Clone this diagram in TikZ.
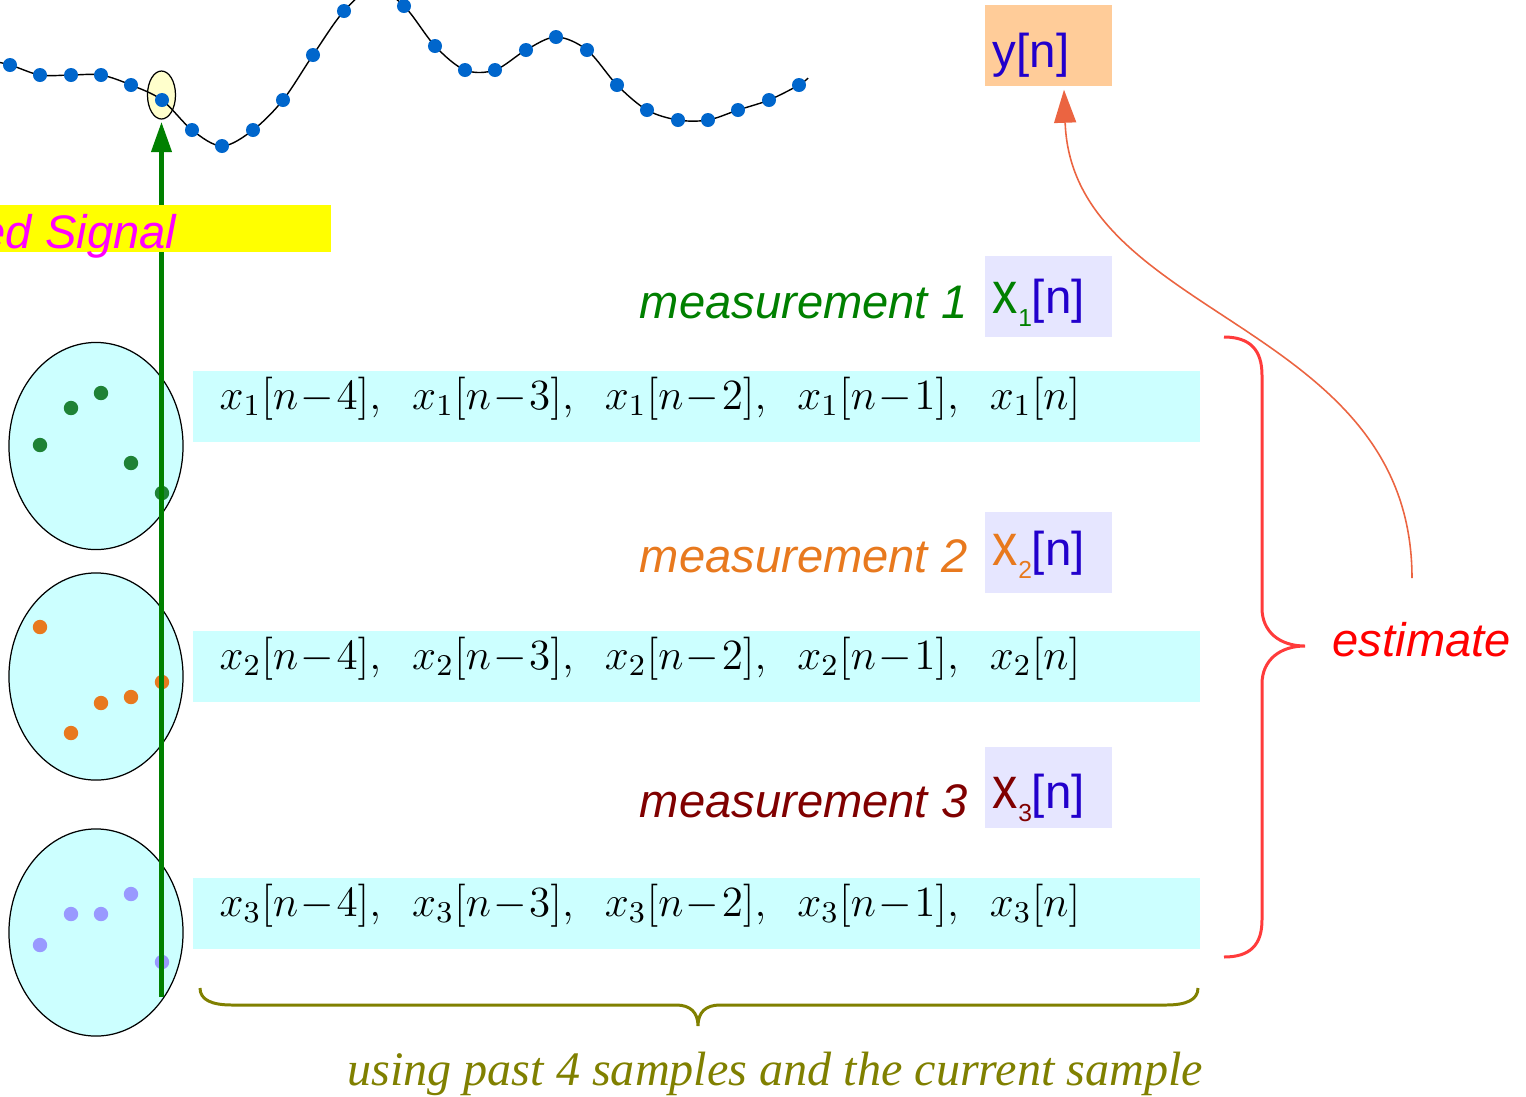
\documentclass[tikz,border=0pt]{standalone}
\usepackage{fix-cm}
\usepackage{fontspec}
\setmainfont{Liberation Serif}
\setsansfont{Liberation Sans}
\usepackage{graphicx}
\usetikzlibrary{arrows.meta, shapes.geometric, calc}
\definecolor{sigblue}{HTML}{0066CC}
\definecolor{rowcyan}{HTML}{CCFFFF}
\definecolor{boxlav}{HTML}{E6E6FF}
\definecolor{boxpeach}{HTML}{FFCC99}
\definecolor{curyellow}{HTML}{FFFFCC}
\definecolor{sigyellow}{HTML}{FFFF00}
\definecolor{sigmagenta}{HTML}{FF00FF}
\definecolor{labgreen}{HTML}{008000}
\definecolor{dotgreen}{HTML}{1E8236}
\definecolor{laborange}{HTML}{E8791E}
\definecolor{labred}{HTML}{800000}
\definecolor{dotlav}{HTML}{9999FF}
\definecolor{nblue}{HTML}{2200CC}
\definecolor{estred}{HTML}{FF0000}
\definecolor{bracered}{HTML}{FF3B3B}
\definecolor{arrowred}{HTML}{EB6441}
\definecolor{braceolive}{HTML}{808000}
\newcommand{\labfont}{\fontsize{13.4}{16}\selectfont\sffamily\itshape}
\newcommand{\boxfont}{\fontsize{13.5}{16}\selectfont\sffamily}
\newcommand{\rowfont}{\fontsize{12.25}{15}\selectfont}
\newcommand{\subfont}{\fontsize{7}{8}\selectfont}
\newcommand{\bigx}{\scalebox{0.9}[1.05]{\fontsize{16}{16}\selectfont x}}
\tikzset{
  meascloud/.style={ellipse, draw=black, line width=0.35pt, fill=rowcyan,
    minimum width=1.74cm, minimum height=2.07cm, inner sep=0pt},
  curmark/.style={ellipse, draw=black, line width=0.35pt, fill=curyellow,
    minimum width=0.28cm, minimum height=0.48cm, inner sep=0pt, outer sep=0.03cm},
  rowbox/.style={fill=rowcyan, minimum width=10.07cm, minimum height=0.71cm,
    inner xsep=0.27cm, inner ysep=0pt, text width=9.53cm, align=left,
    text height=0.35cm, text depth=0.3cm, font=\rowfont},
  xbox/.style={fill=boxlav, minimum width=1.27cm, minimum height=0.81cm,
    inner xsep=0.08cm, inner ysep=0pt, text width=1.11cm, align=left,
    text depth=0.15cm, font=\boxfont},
  measlabel/.style={anchor=base east, inner sep=0pt, font=\labfont},
  sigarrow/.style={draw=labgreen, line width=0.04cm, -{Triangle[length=0.3cm, width=0.2cm]}},
  estarrow/.style={draw=arrowred, line width=0.45pt, -{Triangle[length=0.33cm, width=0.22cm]}}
}

\begin{document}
\begin{tikzpicture}[x=0.01cm, y=-0.01cm]
\useasboundingbox (0,0) rectangle (1526,1096);
\clip (0,0) rectangle (1526,1096);

% sampled signal
\node[curmark] (cur) at (161.5,95) {};
\draw[black, line width=0.4pt] plot[smooth, tension=0.55] coordinates {
  (-20,58) (10,65) (40,75) (71,75) (101,75) (131,85) (162,100) (192,130)
  (222,146) (253,130) (283,100) (313,55) (344,11) (374,-12) (404,6)
  (435,46) (465,70) (495,70) (526,50) (556,37) (587,50) (617,85)
  (647,110) (678,120) (708,120) (738,110) (769,100) (799,85) (808,78)};
\foreach \x/\y in {10/65, 40/75, 71/75, 101/75, 131/85, 162/100, 192/130,
  222/146, 253/130, 283/100, 313/55, 344/11, 404/6, 435/46, 465/70,
  495/70, 526/50, 556/37, 587/50, 617/85, 647/110, 678/120, 708/120,
  738/110, 769/100, 799/85}{
  \fill[sigblue] (\x,\y) circle[radius=0.07cm];
}

% measurement clouds
\node[meascloud] (cloud1) at (96,446) {};
\node[meascloud] (cloud2) at (96,676.5) {};
\node[meascloud] (cloud3) at (96,932.5) {};
\foreach \x/\y in {101/393, 71/408, 40/445, 131/463, 162/493}{
  \fill[dotgreen] (\x,\y) circle[radius=0.072cm];
}
\foreach \x/\y in {40/627, 71/733, 101/703, 131/697, 162/682}{
  \fill[laborange] (\x,\y) circle[radius=0.072cm];
}
\foreach \x/\y in {40/945, 71/914, 101/914, 131/894, 162/962}{
  \fill[dotlav] (\x,\y) circle[radius=0.072cm];
}

% current sample
\coordinate (gbase) at (161.5,997);
\draw[sigarrow] (gbase) -- (cur);

\fill[sigyellow] (0,205) rectangle (331,252);
\node[anchor=base east, inner sep=0pt, font=\labfont, text=sigmagenta] (sig) at (177,248) {ed Signal};

% sample windows
\foreach \i/\yr in {1/406.5, 2/666.5, 3/913.5}{
  \node[rowbox] (row\i) at (696.5,\yr)
    {$x_\i[n\!-\!4],\;\; x_\i[n\!-\!3],\;\; x_\i[n\!-\!2],\;\; x_\i[n\!-\!1],\;\; x_\i[n]$};
}

% measurements
\foreach \i/\c/\yb/\h/\yl in {1/labgreen/296.5/0.49/318, 2/laborange/552.5/0.40/572, 3/labred/787.5/0.56/817}{
  \node[xbox, text height=\h cm] (xbox\i) at (1048.5,\yb)
    {\textcolor{\c}{\bigx\raisebox{-0.13cm}{\subfont\i}}\textcolor{nblue}{[n]}};
  \node[measlabel, text=\c] (mlab\i) at (968,\yl) {measurement \i};
}

\node[xbox, fill=boxpeach, text height=0.58cm] (yn) at (1048.5,45.5) {\textcolor{nblue}{y[n]}};

% estimate
\draw[bracered, line width=0.85pt] (1224,337) .. controls (1250,337) and (1262,350) .. (1262,375)
  -- (1262,608) .. controls (1262,632) and (1280,646) .. (1305,646)
  .. controls (1280,646) and (1262,660) .. (1262,684)
  -- (1262,920) .. controls (1262,945) and (1250,957) .. (1224,957);
\node[anchor=base west, inner sep=0pt, font=\labfont, text=estred] (est) at (1332,656) {estimate};
\coordinate (estfrom) at (1412,578);
\draw[estarrow] (estfrom) .. controls (1412,320) and (1072,320) .. ([xshift=0.155cm,yshift=-0.03cm]yn.south);

% window brace
\draw[braceolive, line width=0.85pt] (200,988) .. controls (200,1000) and (212,1005) .. (232,1005)
  -- (676,1005) .. controls (690,1005) and (698,1012) .. (698,1026)
  .. controls (698,1012) and (706,1005) .. (720,1005)
  -- (1166,1005) .. controls (1186,1005) and (1198,1000) .. (1198,988);
\node[anchor=base east, inner sep=0pt, font=\fontsize{13.7}{16}\selectfont\itshape, text=braceolive] (win) at (1204,1085)
  {using past 4 samples and the current sample};
\end{tikzpicture}
\end{document}
